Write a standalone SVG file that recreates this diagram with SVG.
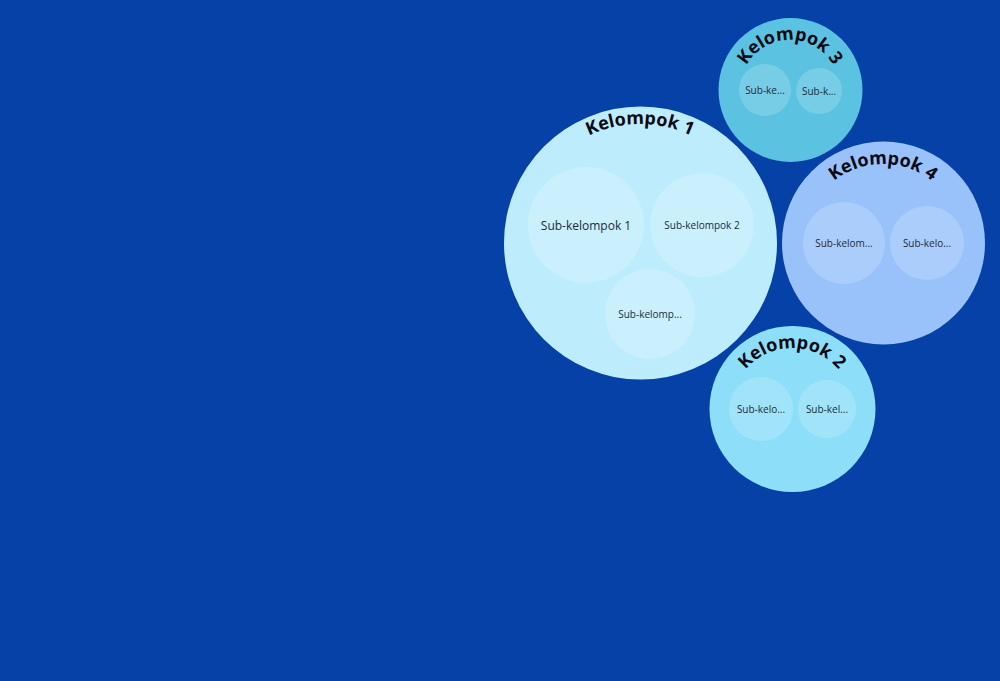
<svg xmlns="http://www.w3.org/2000/svg" width="1000" height="681" viewBox="0 0 1000 681">
<style>
.bg{fill:#0641A7}
.title{font-family:"Open Sans","Liberation Sans",sans-serif;font-weight:bold;font-size:18px;fill:#0a0a14}
.sub{font-family:"Open Sans","Liberation Sans",sans-serif;font-size:10px;fill:#1d2b3a;text-anchor:middle;dominant-baseline:central}
.subc{fill:#ffffff;fill-opacity:0.18}
</style>
<defs>
<path id="a1" d="M521,243 A119,119 0 0 1 759,243"/>
<path id="a3" d="M740,90 A50,50 0 0 1 840,90"/>
<path id="a4" d="M804,243 A79,79 0 0 1 962,243"/>
<path id="a2" d="M731,409 A61,61 0 0 1 853,409"/>
</defs>
<rect class="bg" x="0" y="0" width="1000" height="681"/>
<g id="connectors"></g>
<g id="kelompok1">
<circle cx="640.5" cy="243" r="136.5" fill="#BDEDFC"/>
<circle class="subc" cx="586" cy="225" r="58"/>
<circle class="subc" cx="702" cy="225" r="52"/>
<circle class="subc" cx="650" cy="314" r="45"/>
<text class="title"><textPath href="#a1" startOffset="50%" text-anchor="middle">Kelompok 1</textPath></text>
<text class="sub" x="586" y="225" style="font-size:12px">Sub-kelompok 1</text>
<text class="sub" x="702" y="225">Sub-kelompok 2</text>
<text class="sub" x="650" y="314">Sub-kelomp...</text>
</g>
<g id="kelompok3">
<circle cx="790.5" cy="90" r="72" fill="#5BC3E1"/>
<circle class="subc" cx="765" cy="90" r="26"/>
<circle class="subc" cx="819" cy="91" r="23"/>
<text class="title"><textPath href="#a3" startOffset="50%" text-anchor="middle">Kelompok 3</textPath></text>
<text class="sub" x="765" y="90">Sub-ke...</text>
<text class="sub" x="819" y="91">Sub-k...</text>
</g>
<g id="kelompok4">
<circle cx="883.5" cy="243" r="101.5" fill="#99C2FA"/>
<circle class="subc" cx="844" cy="243" r="41"/>
<circle class="subc" cx="927" cy="243" r="37"/>
<text class="title"><textPath href="#a4" startOffset="50%" text-anchor="middle">Kelompok 4</textPath></text>
<text class="sub" x="844" y="243">Sub-kelom...</text>
<text class="sub" x="927" y="243">Sub-kelo...</text>
</g>
<g id="kelompok2">
<circle cx="792.5" cy="409" r="83" fill="#8DDFF9"/>
<circle class="subc" cx="761" cy="409" r="32"/>
<circle class="subc" cx="827" cy="409" r="29"/>
<text class="title"><textPath href="#a2" startOffset="50%" text-anchor="middle">Kelompok 2</textPath></text>
<text class="sub" x="761" y="409">Sub-kelo...</text>
<text class="sub" x="827" y="409">Sub-kel...</text>
</g>
</svg>
